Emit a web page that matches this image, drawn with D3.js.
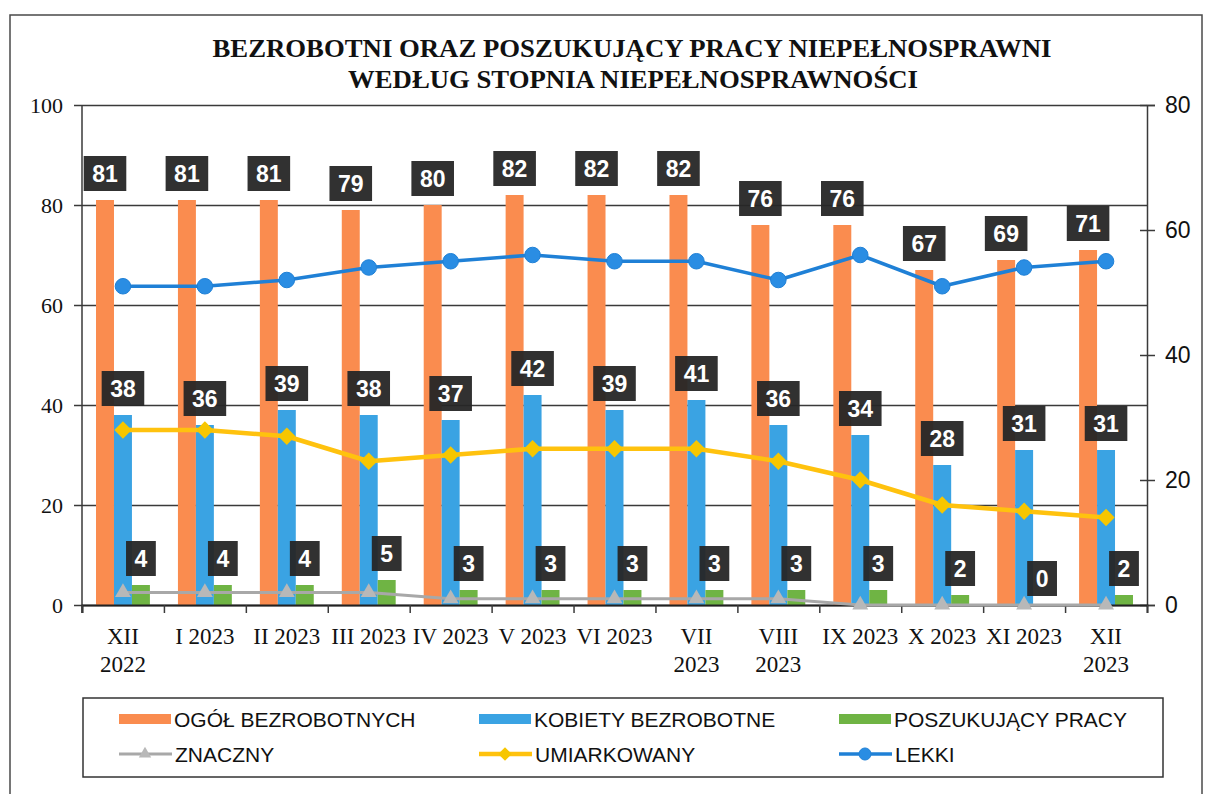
<!DOCTYPE html>
<html>
<head>
<meta charset="utf-8">
<script src="https://cdn.jsdelivr.net/npm/d3@7"></script>
<style>
  html, body { margin: 0; padding: 0; background: #fff; }
  svg { display: block; }
</style>
</head>
<body>
<svg width="1211" height="794"></svg>
<script>
// categories (tick labels, "\n" = line break like in the original)
const categories = ["XII\n2022", "I 2023", "II 2023", "III 2023", "IV 2023", "V 2023", "VI 2023",
    "VII\n2023", "VIII\n2023", "IX 2023", "X 2023", "XI 2023", "XII\n2023"];

// bars, left axis
const ogol = [81, 81, 81, 79, 80, 82, 82, 82, 76, 76, 67, 69, 71];
const kobiety = [38, 36, 39, 38, 37, 42, 39, 41, 36, 34, 28, 31, 31];
const poszukujacy = [4, 4, 4, 5, 3, 3, 3, 3, 3, 3, 2, 0, 2];

// lines, right axis
const znaczny = [2, 2, 2, 2, 1, 1, 1, 1, 1, 0, 0, 0, 0];
const umiarkowany = [28, 28, 27, 23, 24, 25, 25, 25, 23, 20, 16, 15, 14];
const lekki = [51, 51, 52, 54, 55, 56, 55, 55, 52, 56, 51, 54, 55];

const leftTicks = [0, 20, 40, 60, 80, 100];
const rightTicks = [0, 20, 40, 60, 80];

const barSeries = [
    {name: "OGÓŁ BEZROBOTNYCH", values: ogol, color: "#fa8c4f"},
    {name: "KOBIETY BEZROBOTNE", values: kobiety, color: "#3aa3e3"},
    {name: "POSZUKUJĄCY PRACY", values: poszukujacy, color: "#6fb444"}
];
const lineSeries = [
    {name: "ZNACZNY", values: znaczny, color: "#a8a8a8", marker: "triangle", width: 3},
    {name: "UMIARKOWANY", values: umiarkowany, color: "#ffc20e", marker: "diamond", width: 4.5},
    {name: "LEKKI", values: lekki, color: "#1f80d6", marker: "circle", width: 3.5}
];

let svg = d3.select("svg"),
    plot = {left: 82, right: 1147, top: 105, bottom: 605};

// outer frame of the chart
svg.append("rect")
    .attr("x", 10).attr("y", 15)
    .attr("width", 1192).attr("height", 800)
    .attr("fill", "none").attr("stroke", "#4a4a4a").attr("stroke-width", 1.5);

// title
let title = svg.append("g")
    .attr("font-family", "'Liberation Serif', 'Times New Roman', serif")
    .attr("font-weight", "bold").attr("font-size", 25).attr("fill", "#111")
    .attr("text-anchor", "middle");
title.append("text").attr("x", 632).attr("y", 57)
    .attr("textLength", 839).attr("lengthAdjust", "spacingAndGlyphs")
    .text("BEZROBOTNI ORAZ POSZUKUJĄCY PRACY NIEPEŁNOSPRAWNI");
title.append("text").attr("x", 633).attr("y", 88)
    .attr("textLength", 570).attr("lengthAdjust", "spacingAndGlyphs")
    .text("WEDŁUG STOPNIA NIEPEŁNOSPRAWNOŚCI");

// scales
let x0 = d3.scaleBand().domain(d3.range(categories.length)).range([plot.left, plot.right]).padding(0),
    x1 = d3.scaleBand().domain(d3.range(barSeries.length)).range([0, x0.bandwidth()]).paddingInner(0).paddingOuter(0.78),
    yL = d3.scaleLinear().domain([0, 100]).range([plot.bottom, plot.top]),
    yR = d3.scaleLinear().domain([0, 80]).range([plot.bottom, plot.top]),
    xTicks = d3.scaleLinear().domain([0, categories.length]).range([plot.left, plot.right]);

// gridlines + left axis
let leftAxis = svg.append("g")
    .attr("transform", "translate(" + plot.left + ",0)")
    .call(d3.axisLeft(yL).tickValues(leftTicks).tickSize(8).tickPadding(11));
leftAxis.select(".domain").remove();
leftAxis.selectAll(".tick line")
    .attr("x1", -8).attr("x2", plot.right - plot.left)
    .attr("stroke", "#3a3a3a").attr("stroke-width", 1.5);
leftAxis.selectAll(".tick text")
    .attr("font-family", "'Liberation Serif', 'Times New Roman', serif")
    .attr("font-size", 22).attr("fill", "#111");
svg.append("line")
    .attr("x1", plot.left).attr("x2", plot.left)
    .attr("y1", plot.top).attr("y2", plot.bottom + 8)
    .attr("stroke", "#3a3a3a").attr("stroke-width", 1.5);

// right axis
let rightAxis = svg.append("g")
    .attr("transform", "translate(" + plot.right + ",0)")
    .call(d3.axisRight(yR).tickValues(rightTicks).tickSize(8).tickPadding(10));
rightAxis.select(".domain").attr("stroke", "#3a3a3a").attr("stroke-width", 1.5);
rightAxis.selectAll(".tick line").attr("x1", -7).attr("stroke", "#3a3a3a").attr("stroke-width", 1.5);
rightAxis.selectAll(".tick text")
    .attr("font-family", "'Liberation Sans', Arial, sans-serif")
    .attr("font-size", 23).attr("fill", "#111");

// bars
let barLayer = svg.append("g");
barSeries.forEach(function (s, si) {
    barLayer.append("g").selectAll("rect")
        .data(s.values)
        .join("rect")
        .attr("x", (d, i) => x0(i) + x1(si))
        .attr("y", d => yL(d))
        .attr("width", x1.bandwidth())
        .attr("height", d => yL(0) - yL(d))
        .attr("fill", s.color);
});

// bottom axis: ticks at category boundaries, labels at centres
let xAxis = svg.append("g")
    .attr("transform", "translate(0," + plot.bottom + ")")
    .call(d3.axisBottom(xTicks).ticks(categories.length).tickFormat("").tickSize(8));
xAxis.select(".domain").attr("stroke", "#222").attr("stroke-width", 1.8);
xAxis.selectAll(".tick line").attr("stroke", "#3a3a3a").attr("stroke-width", 1.5);

let xLabels = svg.append("g")
    .attr("font-family", "'Liberation Serif', 'Times New Roman', serif")
    .attr("font-size", 23).attr("fill", "#111").attr("text-anchor", "middle");
categories.forEach(function (c, i) {
    let t = xLabels.append("text")
        .attr("x", x0(i) + x0.bandwidth() / 2)
        .attr("y", 644);
    c.split("\n").forEach(function (part, k) {
        t.append("tspan")
            .attr("x", x0(i) + x0.bandwidth() / 2)
            .attr("dy", k === 0 ? 0 : 28)
            .text(part);
    });
});

// line series
let cx = i => x0(i) + x0.bandwidth() / 2;
let symbolTypes = {triangle: d3.symbolTriangle, diamond: d3.symbolSquare, circle: d3.symbolCircle};
let symbolSizes = {triangle: 110, diamond: 150, circle: 190};
let markerFill = {triangle: "#b8b8b8", diamond: "#f7c600", circle: "#2a8de3"};

function drawMarker(g, type, size) {
    let shape = g.append("path")
        .attr("d", d3.symbol().type(symbolTypes[type]).size(size || symbolSizes[type])())
        .attr("fill", markerFill[type])
        .attr("stroke", type === "circle" ? "#1f80d6" : "none");
    // a square turned by 45 degrees gives the even diamond of the original
    if (type === "diamond") shape.attr("transform", "rotate(45)");
    return shape;
}

let lineLayer = svg.append("g");
lineSeries.forEach(function (s) {
    let line = d3.line()
        .x((d, i) => cx(i))
        .y(d => yR(d));
    lineLayer.append("path")
        .datum(s.values)
        .attr("d", line)
        .attr("fill", "none")
        .attr("stroke", s.color)
        .attr("stroke-width", s.width)
        .attr("stroke-linejoin", "round");
    s.values.forEach(function (v, i) {
        let g = lineLayer.append("g").attr("transform", "translate(" + cx(i) + "," + yR(v) + ")");
        drawMarker(g, s.marker);
    });
});

// data labels (dark boxes above bars)
let labelLayer = svg.append("g")
    .attr("font-family", "'Liberation Sans', Arial, sans-serif")
    .attr("font-weight", "bold").attr("font-size", 23);
barSeries.forEach(function (s, si) {
    s.values.forEach(function (v, i) {
        let bx = x0(i) + x1(si) + x1.bandwidth() / 2,
            bottom = yL(v) - 9;
        let g = labelLayer.append("g");
        let r = g.append("rect").attr("fill", "#262626").attr("fill-opacity", 0.95);
        let t = g.append("text")
            .attr("x", bx).attr("y", bottom - 9)
            .attr("text-anchor", "middle").attr("fill", "#fff")
            .text(v);
        let w = t.node().getComputedTextLength() + 17;
        r.attr("x", bx - w / 2).attr("y", bottom - 35).attr("width", w).attr("height", 35);
    });
});

// legend
let legend = svg.append("g");
legend.append("rect")
    .attr("x", 83).attr("y", 698).attr("width", 1080).attr("height", 79)
    .attr("fill", "#fff").attr("stroke", "#333").attr("stroke-width", 1.5);
let legendCols = [119, 479, 839];
let legendFont = "'Liberation Sans', Arial, sans-serif";
barSeries.forEach(function (s, k) {
    legend.append("rect")
        .attr("x", legendCols[k]).attr("y", 714)
        .attr("width", 52).attr("height", 10)
        .attr("fill", s.color);
    legend.append("text")
        .attr("x", legendCols[k] + 55).attr("y", 727)
        .attr("font-family", legendFont).attr("font-size", 21).attr("fill", "#111")
        .text(s.name);
});
lineSeries.forEach(function (s, k) {
    legend.append("line")
        .attr("x1", legendCols[k]).attr("x2", legendCols[k] + 53)
        .attr("y1", 754).attr("y2", 754)
        .attr("stroke", s.color).attr("stroke-width", s.width);
    let g = legend.append("g").attr("transform", "translate(" + (legendCols[k] + 26) + ",754)");
    drawMarker(g, s.marker, symbolSizes[s.marker] * 0.6);
    legend.append("text")
        .attr("x", legendCols[k] + 56).attr("y", 762)
        .attr("font-family", legendFont).attr("font-size", 21).attr("fill", "#111")
        .text(s.name);
});
</script>
</body>
</html>
